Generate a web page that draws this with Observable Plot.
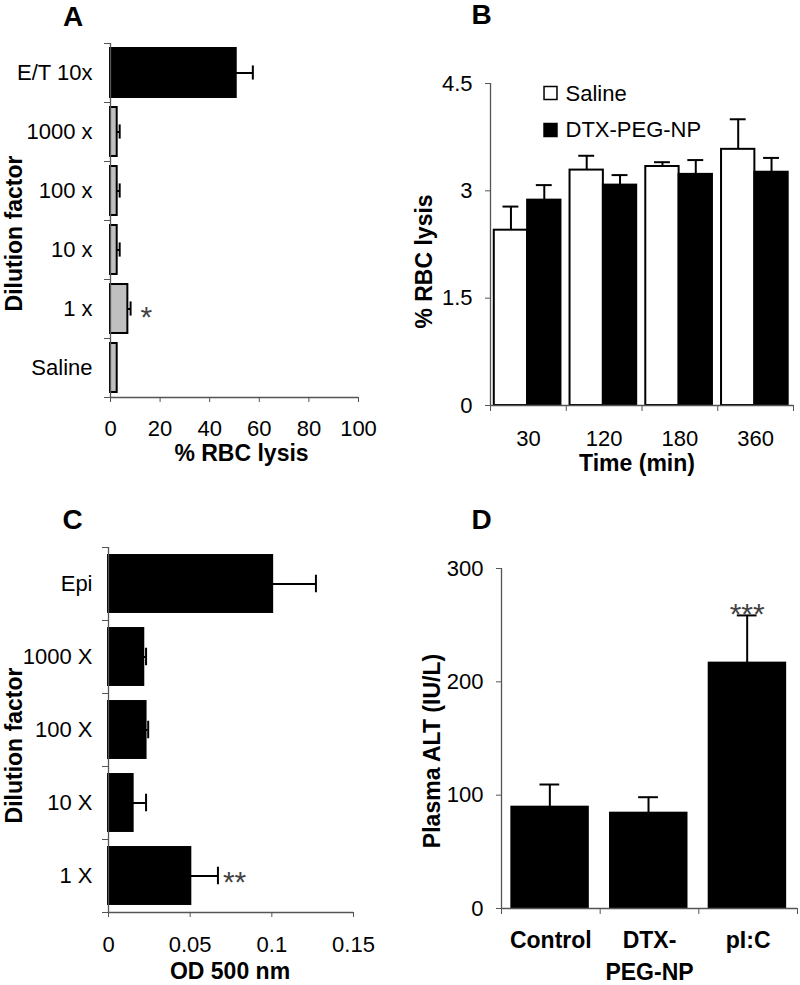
<!DOCTYPE html>
<html><head><meta charset="utf-8">
<script src="https://cdn.jsdelivr.net/npm/d3@7"></script>
<script src="https://cdn.jsdelivr.net/npm/@observablehq/plot@0.6"></script>
<style>
body{margin:0;background:#fff;}
#wrap{position:relative;width:800px;height:985px;overflow:hidden;background:#fff;}
#wrap svg{position:absolute;}
</style></head><body><div id="wrap"></div>
<script>
// ---------- Panel A ----------
const catsA = ["E/T 10x", "1000 x", "100 x", "10 x", "1 x", "Saline"];
const valsA = [50.7, 2.7, 2.7, 2.7, 7.0, 2.7];
const errsA = [6.7, 1.0, 1.0, 1.0, 1.1, 0];
const sigA = ["", "", "", "", "*", ""];
const xTicksA = [0, 20, 40, 60, 80, 100];

// ---------- Panel B ----------
const timesB = ["30", "120", "180", "360"];
const seriesB = ["Saline", "DTX-PEG-NP"];
const salineB = [2.45, 3.29, 3.34, 3.58];
const salineErrB = [0.33, 0.20, 0.06, 0.42];
const dtxB = [2.87, 3.08, 3.23, 3.26];
const dtxErrB = [0.21, 0.14, 0.20, 0.20];
const yTicksB = [0, 1.5, 3, 4.5];

// ---------- Panel C ----------
const catsC = ["Epi", "1000 X", "100 X", "10 X", "1 X"];
const valsC = [0.1005, 0.0216, 0.0230, 0.0151, 0.0504];
const errsC = [0.0265, 0.0014, 0.0013, 0.0079, 0.0166];
const sigC = ["", "", "", "", "**"];
const xTicksC = [0, 0.05, 0.1, 0.15];

// ---------- Panel D ----------
const groupsD = ["Control", "DTX-\nPEG-NP", "pI:C"];
const valsD = [89.4, 84.1, 216.5];
const errsD = [20.0, 14.1, 42.1];
const sigD = ["", "", "***"];
const yTicksD = [0, 100, 200, 300];

const FONT = '"Liberation Sans", Arial, Helvetica, sans-serif';
const AX = "#555";
const baseStyle = {fontFamily: FONT, fontSize: "22px", overflow: "visible", background: "transparent", color: "black"};
const wrap = document.getElementById("wrap");
function place(svg, left, top) {
  svg.style.position = "absolute";
  svg.style.left = left + "px";
  svg.style.top = top + "px";
  wrap.appendChild(svg);
}
const bold = {fontWeight: "bold", fontSize: 23, textAnchor: "middle", lineAnchor: "middle"};
const letter = {fontWeight: "bold", fontSize: 28, textAnchor: "middle", lineAnchor: "middle", frameAnchor: "top-left"};

// ===== A =====
const rowsA = catsA.map((c, i) => ({c, i, v: valsA[i], e: errsA[i], s: sigA[i]}));
const nA = catsA.length;
place(Plot.plot({
  width: 400, height: 480,
  marginLeft: 110, marginRight: 42, marginTop: 43, marginBottom: 83,
  style: baseStyle,
  x: {domain: [0, 100]},
  y: {domain: [0, nA], reverse: true},
  marks: [
    Plot.rect(rowsA, {x1: 0, x2: "v", y1: d => d.i + 0.085, y2: d => d.i + 0.915,
      fill: d => d.i === 0 ? "black" : "#c0c0c0", stroke: "black", strokeWidth: 2}),
    Plot.ruleY(rowsA.filter(d => d.e > 0), {y: d => d.i + 0.5, x1: "v", x2: d => d.v + d.e, stroke: "black", strokeWidth: 2}),
    Plot.ruleX(rowsA.filter(d => d.e > 0), {x: d => d.v + d.e, y1: d => d.i + 0.38, y2: d => d.i + 0.62, stroke: "black", strokeWidth: 2}),
    Plot.text(rowsA.filter(d => d.s), {x: d => d.v + d.e, y: d => d.i + 0.5, text: "s", dx: 10, dy: -3.5,
      textAnchor: "start", lineAnchor: "top", fontSize: 30, fill: "#444"}),
    Plot.ruleX([0], {stroke: AX, strokeWidth: 1.3}),
    Plot.ruleY([nA], {stroke: AX, strokeWidth: 1.3}),
    Plot.axisX({ticks: xTicksA, tickSize: 5, tickPadding: 18, tickFormat: d => String(d), fontSize: 22, stroke: AX, label: null}),
    Plot.axisY({ticks: d3.range(nA + 1), tickSize: 6, tickFormat: () => "", stroke: AX, label: null}),
    Plot.axisY({ticks: d3.range(nA).map(i => i + 0.5), tickSize: 0, tickPadding: 18,
      tickFormat: t => catsA[Math.floor(t)], fontSize: 22, label: null}),
    Plot.text(["A"], {text: d => d, ...letter, dx: -37.5, dy: -26.5}),
    Plot.text(["% RBC lysis"], {text: d => d, ...bold, frameAnchor: "bottom", dx: 7, dy: 56.5}),
    Plot.text(["Dilution factor"], {text: d => d, ...bold, frameAnchor: "left", rotate: -90, dx: -96, dy: 13})
  ]
}), 0, 0);

// ===== B =====
const nB = timesB.length;
const barsB = [
  ...salineB.map((v, i) => ({i, k: 0, v, e: salineErrB[i]})),
  ...dtxB.map((v, i) => ({i, k: 1, v, e: dtxErrB[i]}))
];
const bx1 = d => d.i + 0.05 + d.k * 0.44;
const bxc = d => bx1(d) + 0.22;
place(Plot.plot({
  width: 400, height: 480,
  marginLeft: 90, marginRight: 7, marginTop: 83, marginBottom: 75,
  style: baseStyle,
  x: {domain: [0, nB]},
  y: {domain: [0, 4.5]},
  marks: [
    Plot.rect(barsB, {x1: bx1, x2: d => bx1(d) + 0.44, y1: 0, y2: "v",
      fill: d => d.k === 0 ? "white" : "black", stroke: "black", strokeWidth: 2}),
    Plot.ruleX(barsB, {x: bxc, y1: "v", y2: d => d.v + d.e, stroke: "black", strokeWidth: 2}),
    Plot.ruleY(barsB, {y: d => d.v + d.e, x1: d => bxc(d) - 0.105, x2: d => bxc(d) + 0.105, stroke: "black", strokeWidth: 2}),
    Plot.ruleX([0], {stroke: AX, strokeWidth: 1.3}),
    Plot.ruleY([0], {stroke: AX, strokeWidth: 1.3}),
    Plot.axisY({ticks: yTicksB, tickSize: 5, tickPadding: 13, tickFormat: d => String(d), fontSize: 22, stroke: AX, label: null}),
    Plot.axisX({ticks: d3.range(nB + 1), tickSize: 6, tickFormat: () => "", stroke: AX, label: null}),
    Plot.axisX({ticks: d3.range(nB).map(i => i + 0.5), tickSize: 0, tickPadding: 25,
      tickFormat: t => timesB[Math.floor(t)], fontSize: 22, label: null}),
    Plot.dot([seriesB[0]], {frameAnchor: "top-left", dx: 60, dy: 9.5, symbol: "square", r: 7.3, fill: "white", stroke: "black", strokeWidth: 1.5}),
    Plot.dot([seriesB[1]], {frameAnchor: "top-left", dx: 60, dy: 46.5, symbol: "square", r: 7.3, fill: "black", stroke: "black", strokeWidth: 1.5}),
    Plot.text([seriesB[0]], {text: d => d, frameAnchor: "top-left", dx: 75, dy: 10, textAnchor: "start", lineAnchor: "middle", fontSize: 22}),
    Plot.text([seriesB[1]], {text: d => d, frameAnchor: "top-left", dx: 75, dy: 46, textAnchor: "start", lineAnchor: "middle", fontSize: 22}),
    Plot.text(["B"], {text: d => d, ...letter, dx: -9, dy: -68}),
    Plot.text(["Time (min)"], {text: d => d, ...bold, frameAnchor: "bottom", dx: -5, dy: 58}),
    Plot.text(["% RBC lysis"], {text: d => d, ...bold, frameAnchor: "left", rotate: -90, dx: -66, dy: 17})
  ]
}), 400, 0);

// ===== C =====
const rowsC = catsC.map((c, i) => ({c, i, v: valsC[i], e: errsC[i], s: sigC[i]}));
const nC = catsC.length;
place(Plot.plot({
  width: 400, height: 505,
  marginLeft: 108, marginRight: 47, marginTop: 67, marginBottom: 73,
  style: baseStyle,
  x: {domain: [0, 0.15]},
  y: {domain: [0, nC], reverse: true},
  marks: [
    Plot.rect(rowsC, {x1: 0, x2: "v", y1: d => d.i + 0.11, y2: d => d.i + 0.89, fill: "black", stroke: "black", strokeWidth: 2}),
    Plot.ruleY(rowsC, {y: d => d.i + 0.5, x1: "v", x2: d => d.v + d.e, stroke: "black", strokeWidth: 2}),
    Plot.ruleX(rowsC, {x: d => d.v + d.e, y1: d => d.i + 0.38, y2: d => d.i + 0.62, stroke: "black", strokeWidth: 2}),
    Plot.text(rowsC.filter(d => d.s), {x: d => d.v + d.e, y: d => d.i + 0.5, text: "s", dx: 5, dy: -5,
      textAnchor: "start", lineAnchor: "top", fontSize: 30, fill: "#444"}),
    Plot.ruleX([0], {stroke: AX, strokeWidth: 1.3}),
    Plot.ruleY([nC], {stroke: AX, strokeWidth: 1.3}),
    Plot.axisX({ticks: xTicksC, tickSize: 5, tickPadding: 19, tickFormat: d => String(d), fontSize: 22, stroke: AX, label: null}),
    Plot.axisY({ticks: d3.range(nC + 1), tickSize: 6, tickFormat: () => "", stroke: AX, label: null}),
    Plot.axisY({ticks: d3.range(nC).map(i => i + 0.5), tickSize: 0, tickPadding: 16,
      tickFormat: t => catsC[Math.floor(t)], fontSize: 22, label: null}),
    Plot.text(["C"], {text: d => d, ...letter, dx: -36, dy: -27}),
    Plot.text(["OD 500 nm"], {text: d => d, ...bold, frameAnchor: "bottom", dx: -1, dy: 59}),
    Plot.text(["Dilution factor"], {text: d => d, ...bold, frameAnchor: "left", rotate: -90, dx: -94, dy: 15.5})
  ]
}), 0, 480);

// ===== D =====
const rowsD = groupsD.map((g, i) => ({g, i, v: valsD[i], e: errsD[i], s: sigD[i]}));
const nD = groupsD.length;
place(Plot.plot({
  width: 400, height: 505,
  marginLeft: 101, marginRight: 3, marginTop: 88, marginBottom: 77,
  style: baseStyle,
  x: {domain: [0, nD]},
  y: {domain: [0, 300]},
  marks: [
    Plot.rect(rowsD, {x1: d => d.i + 0.105, x2: d => d.i + 0.88, y1: 0, y2: "v", fill: "black", stroke: "black", strokeWidth: 2}),
    Plot.ruleX(rowsD, {x: d => d.i + 0.49, y1: "v", y2: d => d.v + d.e, stroke: "black", strokeWidth: 2}),
    Plot.ruleY(rowsD, {y: d => d.v + d.e, x1: d => d.i + 0.39, x2: d => d.i + 0.59, stroke: "black", strokeWidth: 2}),
    Plot.text(rowsD.filter(d => d.s), {x: d => d.i + 0.49, y: d => d.v + d.e, text: "s", dy: -13,
      textAnchor: "middle", lineAnchor: "top", fontSize: 30, fill: "#444"}),
    Plot.ruleX([0], {stroke: AX, strokeWidth: 1.3}),
    Plot.ruleY([0], {stroke: AX, strokeWidth: 1.3}),
    Plot.axisY({ticks: yTicksD, tickSize: 5, tickPadding: 13, tickFormat: d => String(d), fontSize: 22, stroke: AX, label: null}),
    Plot.axisX({ticks: d3.range(nD + 1), tickSize: 6, tickFormat: () => "", stroke: AX, label: null}),
    Plot.text(rowsD, {x: d => d.i + 0.5, text: "g", frameAnchor: "bottom", lineAnchor: "top", textAnchor: "middle",
      dy: 17, lineHeight: 1.39, fontWeight: "bold", fontSize: 23}),
    Plot.text(["D"], {text: d => d, ...letter, dx: -20, dy: -48}),
    Plot.text(["Plasma ALT (IU/L)"], {text: d => d, ...bold, frameAnchor: "left", rotate: -90, dx: -69, dy: 12.5})
  ]
}), 400, 480);
</script>
</body></html>
